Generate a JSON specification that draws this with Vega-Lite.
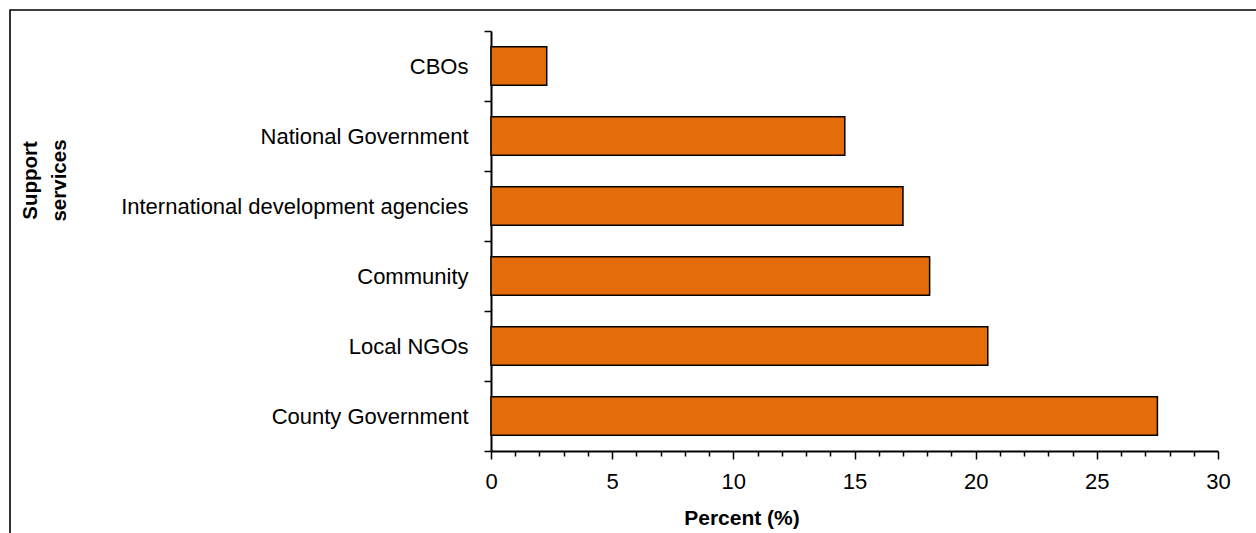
{
  "$schema": "https://vega.github.io/schema/vega-lite/v6.json",
  "autosize": {"type": "none"},
  "padding": {"left": 10, "top": 10, "right": -6, "bottom": -6},
  "width": 1252,
  "height": 529,
  "background": "white",
  "config": {
    "view": {"stroke": "black", "strokeWidth": 1.6},
    "font": "Liberation Sans"
  },
  "data": {
    "values": [
      {"service": "CBOs", "percent": 2.3},
      {"service": "National Government", "percent": 14.6},
      {"service": "International development agencies", "percent": 17.0},
      {"service": "Community", "percent": 18.1},
      {"service": "Local NGOs", "percent": 20.5},
      {"service": "County Government", "percent": 27.5}
    ]
  },
  "mark": {"type": "bar", "color": "#E46C0A", "stroke": "black", "strokeWidth": 1.5, "height": {"band": 0.55}},
  "encoding": {
    "y": {
      "field": "service",
      "type": "nominal",
      "sort": ["CBOs", "National Government", "International development agencies", "Community", "Local NGOs", "County Government"],
      "scale": {"range": [21, 441], "paddingInner": 0, "paddingOuter": 0},
      "axis": {
        "title": ["Support", "services"],
        "titleFont": "Liberation Sans",
        "titleFontSize": 20.5,
        "titleFontWeight": "bold",
        "titleColor": "black",
        "titleX": -461,
        "titleY": 170,
        "titleAngle": -90,
        "titleAlign": "center",
        "titleBaseline": "middle",
        "titleLineHeight": 29,
        "offset": -481,
        "domainColor": "black",
        "domainWidth": 2,
        "tickColor": "black",
        "tickWidth": 1.5,
        "tickSize": 7,
        "tickBand": "extent",
        "labelFontSize": 22,
        "labelColor": "black",
        "labelPadding": 16,
        "labelLimit": 600
      }
    },
    "x": {
      "field": "percent",
      "type": "quantitative",
      "scale": {"domain": [0, 30], "range": [481, 1208], "nice": false},
      "axis": {
        "title": "Percent (%)",
        "titleFontSize": 21,
        "titleFontWeight": "bold",
        "titleColor": "black",
        "titleX": 731.5,
        "titleY": 67,
        "titleBaseline": "middle",
        "titleAlign": "center",
        "offset": -88,
        "values": [0,1,2,3,4,5,6,7,8,9,10,11,12,13,14,15,16,17,18,19,20,21,22,23,24,25,26,27,28,29,30],
        "labelExpr": "datum.value % 5 === 0 ? datum.label : ''",
        "tickSize": {"condition": {"test": "datum.value % 5 === 0", "value": 8}, "value": 5},
        "tickColor": "black",
        "tickWidth": 1.5,
        "domainColor": "black",
        "domainWidth": 2,
        "grid": false,
        "labelFontSize": 22,
        "labelColor": "black",
        "labelPadding": 12,
        "labelFlush": false,
        "labelOverlap": false
      }
    }
  }
}
